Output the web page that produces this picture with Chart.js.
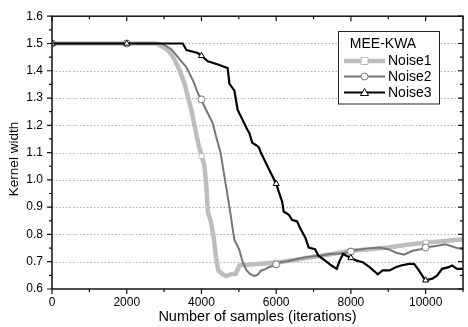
<!DOCTYPE html>
<html><head><meta charset="utf-8">
<script src="https://cdn.jsdelivr.net/npm/chart.js@4.4.0/dist/chart.umd.min.js"></script>
<style>html,body{margin:0;padding:0;background:#fff;overflow:hidden}</style>
</head><body>
<canvas id="c" width="468" height="327"></canvas>
<script>
const legendTitle = 'MEE-KWA';
const seriesNames = ['Noise1', 'Noise2', 'Noise3'];
const xTitle = 'Number of samples (iterations)';
const yTitle = 'Kernel width';
const xTickLabels = [0, 2000, 4000, 6000, 8000, 10000];
const yTickLabels = [0.6, 0.7, 0.8, 0.9, 1.0, 1.1, 1.2, 1.3, 1.4, 1.5, 1.6];

const noise1X = [0, 2000, 2800, 2900, 3000, 3100, 3200, 3300, 3420, 3550, 3640, 3730, 3820, 3910, 3970, 4000, 4080, 4130, 4170, 4260, 4330, 4390, 4450, 4570, 4660, 4790, 4920, 5010, 5100, 5500, 6000, 6500, 7000, 7500, 8000, 8500, 9000, 9500, 10000, 10500, 11000];
const noise1Y = [1.5, 1.5, 1.5, 1.492, 1.485, 1.475, 1.46, 1.435, 1.40, 1.352, 1.304, 1.256, 1.196, 1.136, 1.105, 1.088, 1.052, 0.98, 0.884, 0.842, 0.788, 0.716, 0.668, 0.654, 0.647, 0.654, 0.656, 0.686, 0.688, 0.692, 0.697, 0.706, 0.718, 0.728, 0.740, 0.746, 0.752, 0.762, 0.770, 0.776, 0.782];

const noise2X = [0, 2000, 2900, 3000, 3200, 3420, 3600, 3775, 3910, 4000, 4040, 4170, 4300, 4390, 4510, 4630, 4750, 4880, 5010, 5100, 5200, 5300, 5400, 5500, 5600, 5700, 5800, 5940, 6000, 6120, 6300, 6560, 6800, 7000, 7200, 7440, 7700, 7880, 8000, 8150, 8400, 8760, 9000, 9200, 9420, 9650, 9870, 10000, 10270, 10530, 10800, 11000];
const noise2Y = [1.5, 1.5, 1.5, 1.496, 1.478, 1.442, 1.412, 1.364, 1.316, 1.295, 1.28, 1.244, 1.208, 1.16, 1.1, 1.0, 0.9, 0.78, 0.745, 0.70, 0.67, 0.655, 0.648, 0.652, 0.668, 0.672, 0.68, 0.686, 0.69, 0.698, 0.702, 0.71, 0.716, 0.72, 0.722, 0.728, 0.730, 0.734, 0.737, 0.743, 0.748, 0.752, 0.746, 0.734, 0.726, 0.740, 0.746, 0.752, 0.758, 0.764, 0.752, 0.746];

const noise3X = [0, 2000, 3000, 3500, 3600, 3900, 4000, 4170, 4440, 4660, 4700, 4750, 4880, 4970, 5100, 5230, 5280, 5360, 5500, 5540, 5590, 5760, 5890, 6000, 6070, 6160, 6200, 6340, 6420, 6560, 6640, 6780, 6870, 7040, 7130, 7310, 7480, 7620, 7700, 7790, 7880, 8000, 8150, 8320, 8500, 8720, 8850, 9030, 9200, 9340, 9560, 9690, 9820, 9960, 10000, 10180, 10310, 10440, 10620, 10710, 10840, 11000];
const noise3Y = [1.5, 1.5, 1.5, 1.5, 1.476, 1.465, 1.455, 1.435, 1.423, 1.412, 1.41, 1.352, 1.328, 1.256, 1.22, 1.184, 1.172, 1.136, 1.124, 1.118, 1.10, 1.052, 1.016, 0.986, 0.956, 0.92, 0.884, 0.872, 0.854, 0.848, 0.824, 0.788, 0.752, 0.746, 0.722, 0.704, 0.686, 0.674, 0.704, 0.728, 0.722, 0.714, 0.704, 0.698, 0.68, 0.654, 0.668, 0.668, 0.68, 0.686, 0.692, 0.692, 0.668, 0.638, 0.632, 0.638, 0.65, 0.674, 0.68, 0.686, 0.674, 0.674];

const FONT = "'Liberation Sans', Arial, Helvetica, sans-serif";
const xMin = 0, xMax = 11000, yMin = 0.6, yMax = 1.6;

function pts(xs, ys) { return xs.map((x, i) => ({ x: x, y: ys[i] })); }
const markerR = ctx => (ctx.raw && ctx.raw.x % 2000 === 0 ? 3.5 : 0);

const framePlugin = {
  id: 'frame',
  beforeDatasetsDraw(chart) {
    const { ctx, chartArea: a, scales: { y } } = chart;
    ctx.save();
    ctx.strokeStyle = '#b0b0b0'; ctx.lineWidth = 1; ctx.setLineDash([1.5, 2]);
    yTickLabels.forEach(v => {
      if (v <= yMin + 1e-9 || v >= yMax - 1e-9) return;
      const py = Math.round(y.getPixelForValue(v)) + 0.5;
      ctx.beginPath(); ctx.moveTo(a.left, py); ctx.lineTo(a.right, py); ctx.stroke();
    });
    ctx.restore();
  },
  afterDatasetsDraw(chart) {
    const { ctx, chartArea: a, scales: { x, y } } = chart;
    ctx.save();
    ctx.strokeStyle = '#111'; ctx.lineWidth = 1.5;
    ctx.strokeRect(a.left, a.top, a.right - a.left, a.bottom - a.top);
    ctx.lineWidth = 1.2;
    for (let v = xMin; v <= xMax; v += 1000) {
      const px = x.getPixelForValue(v);
      const len = (v % 2000 === 0) ? 5 : 3;
      ctx.beginPath();
      ctx.moveTo(px, a.bottom); ctx.lineTo(px, a.bottom + len);
      ctx.moveTo(px, a.top); ctx.lineTo(px, a.top + len);
      ctx.stroke();
    }
    for (let i = 0; i <= 20; i++) {
      const v = yMin + i * 0.05;
      const py = y.getPixelForValue(v);
      const len = (i % 2 === 0) ? 5 : 3;
      ctx.beginPath();
      ctx.moveTo(a.left - len, py); ctx.lineTo(a.left, py);
      ctx.moveTo(a.right - len, py); ctx.lineTo(a.right, py);
      ctx.stroke();
    }
    ctx.restore();
  },
  afterDraw(chart) {
    const { ctx } = chart;
    ctx.save();
    // y title
    ctx.fillStyle = '#000';
    ctx.font = '13.5px ' + FONT;
    ctx.textAlign = 'center'; ctx.textBaseline = 'middle';
    ctx.translate(14, 159); ctx.rotate(-Math.PI / 2);
    ctx.fillText(yTitle, 0, 0);
    ctx.restore();
    // legend
    ctx.save();
    const bx = 338.5, by = 31.5, bw = 101, bh = 72.5;
    ctx.fillStyle = '#fff'; ctx.fillRect(bx, by, bw, bh);
    ctx.strokeStyle = '#222'; ctx.lineWidth = 1; ctx.strokeRect(bx, by, bw, bh);
    ctx.fillStyle = '#000'; ctx.font = '14px ' + FONT;
    ctx.textAlign = 'center'; ctx.textBaseline = 'middle';
    ctx.fillText(legendTitle, 383, 44.5);
    const rows = [61, 76.5, 92.5];
    chart.data.datasets.forEach((ds, i) => {
      const ry = rows[i];
      ctx.strokeStyle = ds.borderColor; ctx.lineWidth = ds.borderWidth;
      ctx.beginPath(); ctx.moveTo(344, ry); ctx.lineTo(385, ry); ctx.stroke();
      ctx.fillStyle = '#fff'; ctx.strokeStyle = ds.pointBorderColor; ctx.lineWidth = 1;
      const cx = 364.5, r = 3.5;
      ctx.beginPath();
      if (ds.pointStyle === 'rect') { ctx.rect(cx - r, ry - r, 2 * r, 2 * r); }
      else if (ds.pointStyle === 'circle') { ctx.arc(cx, ry, r, 0, Math.PI * 2); }
      else { ctx.moveTo(cx, ry - r - 0.5); ctx.lineTo(cx + r + 0.5, ry + r - 0.5); ctx.lineTo(cx - r - 0.5, ry + r - 0.5); ctx.closePath(); }
      ctx.fill(); ctx.stroke();
      ctx.fillStyle = '#000'; ctx.textAlign = 'left';
      ctx.fillText(ds.label, 388, ry + 0.5);
    });
    ctx.restore();
  }
};

new Chart(document.getElementById('c'), {
  type: 'line',
  data: {
    datasets: [
      { label: seriesNames[0], data: pts(noise1X, noise1Y), borderColor: '#bdbdbd', borderWidth: 4.5,
        pointStyle: 'rect', pointRadius: markerR, pointBackgroundColor: '#fff', pointBorderColor: '#bdbdbd',
        pointBorderWidth: 1, order: 3, borderJoinStyle: 'round' },
      { label: seriesNames[1], data: pts(noise2X, noise2Y), borderColor: '#767676', borderWidth: 2,
        pointStyle: 'circle', pointRadius: markerR, pointBackgroundColor: '#fff', pointBorderColor: '#767676',
        pointBorderWidth: 1, order: 2 },
      { label: seriesNames[2], data: pts(noise3X, noise3Y), borderColor: '#000', borderWidth: 2.2,
        pointStyle: 'triangle', pointRadius: markerR, pointBackgroundColor: '#fff', pointBorderColor: '#000',
        pointBorderWidth: 1, order: 1 }
    ]
  },
  options: {
    responsive: false, animation: false, devicePixelRatio: 1,
    layout: { padding: { top: 11, right: 1, left: 0, bottom: 0 } },
    plugins: { legend: { display: false }, tooltip: { enabled: false } },
    scales: {
      x: {
        type: 'linear', min: xMin, max: xMax,
        afterBuildTicks: s => { s.ticks = xTickLabels.map(v => ({ value: v })); },
        afterFit: s => { s.height = 38; },
        grid: { display: false, drawTicks: false }, border: { display: false },
        ticks: { color: '#000', font: { size: 12, family: FONT }, padding: 6, maxRotation: 0, autoSkip: false, callback: v => String(v) },
        title: { display: true, text: xTitle, color: '#000', font: { size: 14.5, family: FONT }, padding: { top: 0, bottom: 1 } }
      },
      y: {
        type: 'linear', min: yMin, max: yMax,
        afterBuildTicks: s => { s.ticks = yTickLabels.map(v => ({ value: v })); },
        afterFit: s => { s.width = 52; },
        grid: { display: false, drawTicks: false }, border: { display: false },
        ticks: { color: '#000', font: { size: 12, family: FONT }, padding: 9, callback: v => v.toFixed(1) }
      }
    }
  },
  plugins: [framePlugin]
});
</script>
</body></html>
